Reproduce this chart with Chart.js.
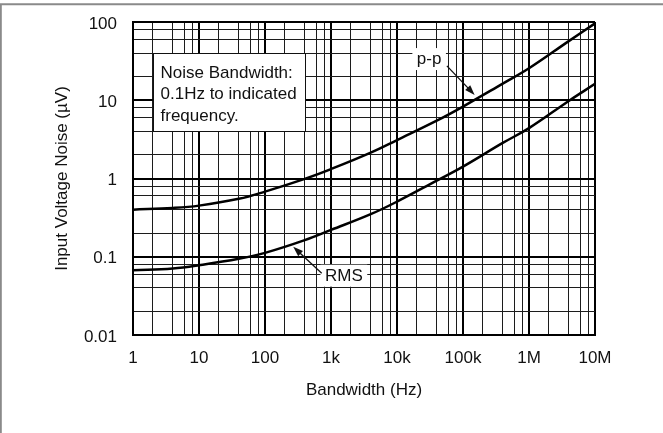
<!DOCTYPE html>
<html>
<head>
<meta charset="utf-8">
<script src="https://cdn.jsdelivr.net/npm/chart.js@4.4.1/dist/chart.umd.min.js"></script>
<style>
  html, body { margin: 0; padding: 0; background: #fff; }
  #wrap { width: 663px; height: 433px; }
</style>
</head>
<body>
<div id="wrap"><canvas id="graph-noise" width="663" height="433"></canvas></div>
<script>
// Bandwidth points (Hz)
const bandwidth = [1, 4, 10, 40, 100, 400, 1e3, 4e3, 1e4, 4e4, 1e5, 4e5, 1e6, 4e6, 1e7];
// Input voltage noise (uV)
const noisePP  = [0.40, 0.42, 0.45, 0.55, 0.68, 0.99, 1.32, 2.14, 3.1, 5.48, 8.3, 16.3, 25.6, 57, 96];
const noiseRMS = [0.067, 0.071, 0.078, 0.094, 0.112, 0.163, 0.22, 0.35, 0.506, 0.94, 1.42, 2.85, 4.4, 9.8, 16.2];

// Eixos: decadas e rotulos
const xDecades = [1, 10, 100, 1e3, 1e4, 1e5, 1e6, 1e7];
const xTickLabels = ['1', '10', '100', '1k', '10k', '100k', '1M', '10M'];
const yDecades = [0.01, 0.1, 1, 10, 100];
const yTickLabels = ['0.01', '0.1', '1', '10', '100'];
const minorSteps = [2, 4, 6, 8];

const noteLines = ['Noise Bandwidth:', '0.1Hz to indicated', 'frequency.'];

// grid ticks: decades plus 2,4,6,8 inside each decade
function gridTicks(decades) {
    var out = [];
    decades.forEach(function(d, i) {
        out.push({ value: d, major: true });
        if (i < decades.length - 1) {
            minorSteps.forEach(function(s) { out.push({ value: d * s, major: false }); });
        }
    });
    return out;
}

Chart.defaults.font.family = '"Liberation Sans", Arial, sans-serif';
Chart.defaults.font.size = 17;
Chart.defaults.color = '#111';

const noteBox = { x0: 2, x1: 400, y0: 4, y1: 40 };
const ppNote  = { text: 'p-p', x: 2e4, y: 29, tailX: 5.7e4, tailY: 27.5, tipX: 1.5e5, tipY: 11.7 };
const rmsNote = { text: 'RMS', x: 810, y: 0.0494, tailX: 723, tailY: 0.0615, tipX: 268, tipY: 0.134 };

function drawArrow(c, x1, y1, x2, y2) {
    var a = Math.atan2(y2 - y1, x2 - x1);
    c.beginPath();
    c.moveTo(x1, y1);
    c.lineTo(x2 - 8 * Math.cos(a), y2 - 8 * Math.sin(a));
    c.stroke();
    c.beginPath();
    c.moveTo(x2, y2);
    c.lineTo(x2 - 10 * Math.cos(a) + 3.5 * Math.sin(a), y2 - 10 * Math.sin(a) - 3.5 * Math.cos(a));
    c.lineTo(x2 - 10 * Math.cos(a) - 3.5 * Math.sin(a), y2 - 10 * Math.sin(a) + 3.5 * Math.cos(a));
    c.closePath();
    c.fill();
}

function drawNote(chart, n) {
    var c = chart.ctx, xs = chart.scales.x, ys = chart.scales.y;
    var px = xs.getPixelForValue(n.x), py = ys.getPixelForValue(n.y);
    var w = c.measureText(n.text).width;
    c.fillStyle = '#fff';
    c.fillRect(px - 4.5, py - 16, w + 9, 22);
    c.fillStyle = '#111';
    c.fillText(n.text, px, py);
    drawArrow(c, xs.getPixelForValue(n.tailX), ys.getPixelForValue(n.tailY),
                 xs.getPixelForValue(n.tipX), ys.getPixelForValue(n.tipY));
}

const notesPlugin = {
    id: 'notes',
    beforeDraw: function(chart) {
        var c = chart.ctx;
        c.save();
        c.strokeStyle = '#8a8a8a';
        c.lineWidth = 2;
        c.beginPath();
        c.moveTo(0, 4.3); c.lineTo(663, 4.3);
        c.moveTo(0.8, 4.3); c.lineTo(0.8, 433);
        c.stroke();
        c.restore();
    },
    afterDatasetsDraw: function(chart) {
        var c = chart.ctx, xs = chart.scales.x, ys = chart.scales.y;
        c.save();
        c.font = '17px "Liberation Sans", Arial, sans-serif';
        c.textBaseline = 'alphabetic';
        c.textAlign = 'left';
        // caixa de texto
        var l = Math.round(xs.getPixelForValue(noteBox.x0)) + 0.5;
        var r = Math.round(xs.getPixelForValue(noteBox.x1)) + 0.5;
        var t = Math.round(ys.getPixelForValue(noteBox.y1)) + 0.5;
        var b = Math.round(ys.getPixelForValue(noteBox.y0)) + 0.5;
        c.fillStyle = '#fff';
        c.fillRect(l, t, r - l, b - t);
        c.strokeStyle = '#111';
        c.lineWidth = 1;
        c.strokeRect(l, t, r - l, b - t);
        c.fillStyle = '#111';
        noteLines.forEach(function(s, i) { c.fillText(s, l + 7, t + 24 + i * 21.7); });
        // labels with arrows
        c.lineWidth = 1.3;
        drawNote(chart, ppNote);
        drawNote(chart, rmsNote);
        c.restore();
    }
};

var ctx = document.getElementById('graph-noise').getContext('2d');
var noiseChart = new Chart(ctx, {
    type: 'line',
    data: {
        datasets: [{
            label: 'p-p',
            data: bandwidth.map(function(f, i) { return { x: f, y: noisePP[i] }; }),
            borderColor: '#000',
            borderWidth: 2.5,
            pointRadius: 0,
            tension: 0.4,
            fill: false
        }, {
            label: 'RMS',
            data: bandwidth.map(function(f, i) { return { x: f, y: noiseRMS[i] }; }),
            borderColor: '#000',
            borderWidth: 2.5,
            pointRadius: 0,
            tension: 0.4,
            fill: false
        }]
    },
    options: {
        responsive: false,
        animation: false,
        layout: { padding: { left: 52, right: 68, top: 22, bottom: 32 } },
        plugins: { legend: { display: false }, tooltip: { enabled: false } },
        scales: {
            x: {
                type: 'logarithmic',
                min: 1,
                max: 1e7,
                afterBuildTicks: function(scale) { scale.ticks = gridTicks(xDecades); },
                afterFit: function(scale) { scale.height = 66; },
                ticks: {
                    autoSkip: false,
                    maxRotation: 0,
                    padding: 13,
                    callback: function(v, i, ticks) {
                        return ticks[i].major ? xTickLabels[xDecades.indexOf(v)] : '';
                    }
                },
                grid: {
                    drawTicks: false,
                    color: function(c) { return c.tick && c.tick.major ? '#000' : '#1c1c1c'; },
                    lineWidth: function(c) { return c.tick && c.tick.major ? 2 : 1; }
                },
                border: { display: true, color: '#000', width: 2 },
                title: { display: true, text: 'Bandwidth (Hz)', padding: 0, color: '#111' }
            },
            y: {
                type: 'logarithmic',
                min: 0.01,
                max: 100,
                afterBuildTicks: function(scale) { scale.ticks = gridTicks(yDecades); },
                afterFit: function(scale) {
                    scale.width = 81;
                    // label padding would otherwise push the plot top down
                    scale.paddingTop = 10;
                    scale.paddingBottom = 10;
                },
                ticks: {
                    autoSkip: false,
                    padding: 16,
                    labelOffset: 2,
                    callback: function(v, i, ticks) {
                        return ticks[i].major ? yTickLabels[yDecades.indexOf(v)] : '';
                    }
                },
                grid: {
                    drawTicks: false,
                    color: function(c) { return c.tick && c.tick.major ? '#000' : '#1c1c1c'; },
                    lineWidth: function(c) { return c.tick && c.tick.major ? 2 : 1; }
                },
                border: { display: true, color: '#000', width: 2 },
                title: { display: true, text: 'Input Voltage Noise (\u00b5V)', padding: 0, color: '#111' }
            }
        }
    },
    plugins: [notesPlugin]
});
</script>
</body>
</html>
